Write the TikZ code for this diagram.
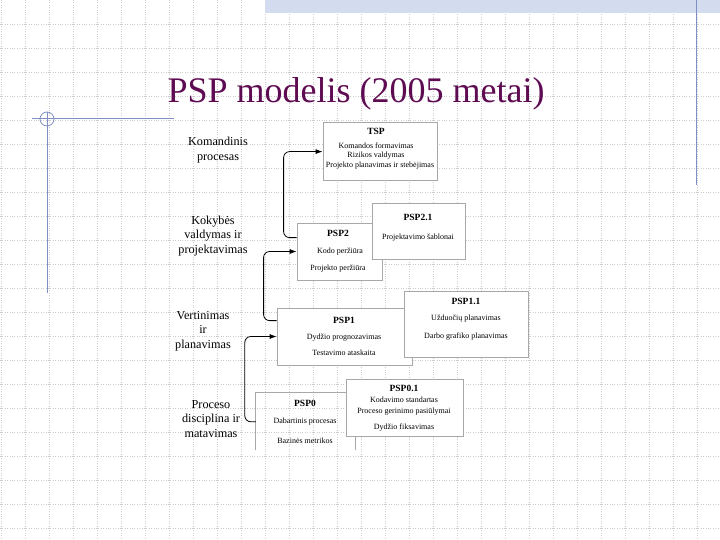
\documentclass[tikz,border=0pt]{standalone}
\usepackage{fontspec}
\setmainfont{Liberation Serif}
\usepackage{tikz}
\usetikzlibrary{arrows.meta,positioning,calc}
\definecolor{plum}{HTML}{5E0B52}
\definecolor{slate}{HTML}{7F8EC4}
\definecolor{bandblue}{HTML}{D3DBEE}
\definecolor{boxgray}{HTML}{A8A8A8}

\begin{document}
\begin{tikzpicture}[
  x=1pt,y=-1pt,
  every node/.style={font=\fontsize{8}{9}\selectfont,inner sep=0pt},
  box/.style={rectangle,draw=boxgray,fill=white,line width=0.8pt},
  head/.style={font=\fontsize{9.5}{11}\selectfont\bfseries},
  side/.style={align=center,font=\fontsize{12.2}{14.5}\selectfont},
  flow/.style={-{Latex[length=7pt,width=5pt]},line width=0.8pt,rounded corners=6pt},
  gridline/.style={gray!40,line width=0.6pt,dash pattern=on 1pt off 1.4pt}
]
\useasboundingbox[fill=white] (0,0) rectangle (720,540);

% background grid of the slide
\foreach \gx in {0,...,29} \draw[gridline] (1+24*\gx,0) -- (1+24*\gx,540);
\foreach \gy in {1,...,22} \draw[gridline] (0,24*\gy) -- (720,24*\gy);

% slide decoration
\fill[bandblue] (265,0) rectangle (720,13);
\draw[slate,line width=1pt] (696,0) -- (696,185);
\draw[slate,line width=1pt] (32,119) -- (174,119);
\draw[slate,line width=1pt] (47,112) -- (47,293);
\draw[slate,line width=0.8pt] (47,119) circle (7);

\node[font=\fontsize{36}{40}\selectfont,text=plum,anchor=base] (title) at (356,103) {PSP modelis (2005 metai)};

% levels
\node[side] (lvl3) at (218,150) {Komandinis\\procesas};
\node[side] (lvl2) at (213,236) {Kokybės\\valdymas ir\\projektavimas};
\node[side] (lvl1) at (203,331) {Vertinimas\\ir\\planavimas};
\node[side] (lvl0) at (211,419) {Proceso\\disciplina ir\\matavimas};

% TSP
\node[box,minimum width=114pt,minimum height=58pt] (tsp) at (380,151) {};
\node[head] (tsp-h) at (376,131) {TSP};
\node (tsp-a) at (376,146) {Komandos formavimas};
\node (tsp-b) at (376,156) {Rizikos valdymas};
\node (tsp-c) at (380,166) {Projekto planavimas ir stebėjimas};

% PSP2
\node[box,minimum width=85pt,minimum height=57pt] (psp2) at (339.5,251.5) {};
\node[box,minimum width=93pt,minimum height=56pt] (psp21) at (418.5,231) {};
\node[head] (psp2-h) at (338,233) {PSP2};
\node (psp2-a) at (340,252) {Kodo peržiūra};
\node (psp2-b) at (338,269) {Projekto peržiūra};
\node[head] (psp21-h) at (418,217) {PSP2.1};
\node (psp21-a) at (418,238) {Projektavimo šablonai};

% PSP1
\node[box,minimum width=135pt,minimum height=57pt] (psp1) at (344.5,336.5) {};
\node[box,minimum width=124pt,minimum height=66pt] (psp11) at (466,324) {};
\node[head] (psp1-h) at (344,320) {PSP1};
\node (psp1-a) at (344,338) {Dydžio prognozavimas};
\node (psp1-b) at (344,353) {Testavimo ataskaita};
\node[head] (psp11-h) at (466,301) {PSP1.1};
\node (psp11-a) at (466,319) {Užduočių planavimas};
\node (psp11-b) at (466,337) {Darbo grafiko planavimas};

% PSP0 (cut off at the bottom)
\node[minimum width=99pt,minimum height=57pt] (psp0) at (305.5,421.5) {};
\draw[boxgray,line width=0.8pt] (psp0.south west) |- (psp0.north east) -- (psp0.south east);
\node[box,minimum width=117pt,minimum height=57pt] (psp01) at (404.5,407.5) {};
\node[head] (psp0-h) at (305,403) {PSP0};
\node (psp0-a) at (305,422) {Dabartinis procesas};
\node (psp0-b) at (305,441) {Bazinės metrikos};
\node[head] (psp01-h) at (404,388) {PSP0.1};
\node (psp01-a) at (404,400) {Kodavimo standartas};
\node (psp01-b) at (404,412) {Proceso gerinimo pasiūlymai};
\node (psp01-c) at (404,428) {Dydžio fiksavimas};

% steps upward
\draw[flow] ([yshift=-15pt]psp2.north west) -- ++(-13,0) |- ([yshift=-30pt]tsp.north west);
\draw[flow] ([yshift=-13pt]psp1.north west) -- ++(-13,0) |- (psp2.west);
\draw[flow] ([yshift=-29pt]psp0.north west) -- ++(-11,0) |- (psp1.west);
\end{tikzpicture}
\end{document}
